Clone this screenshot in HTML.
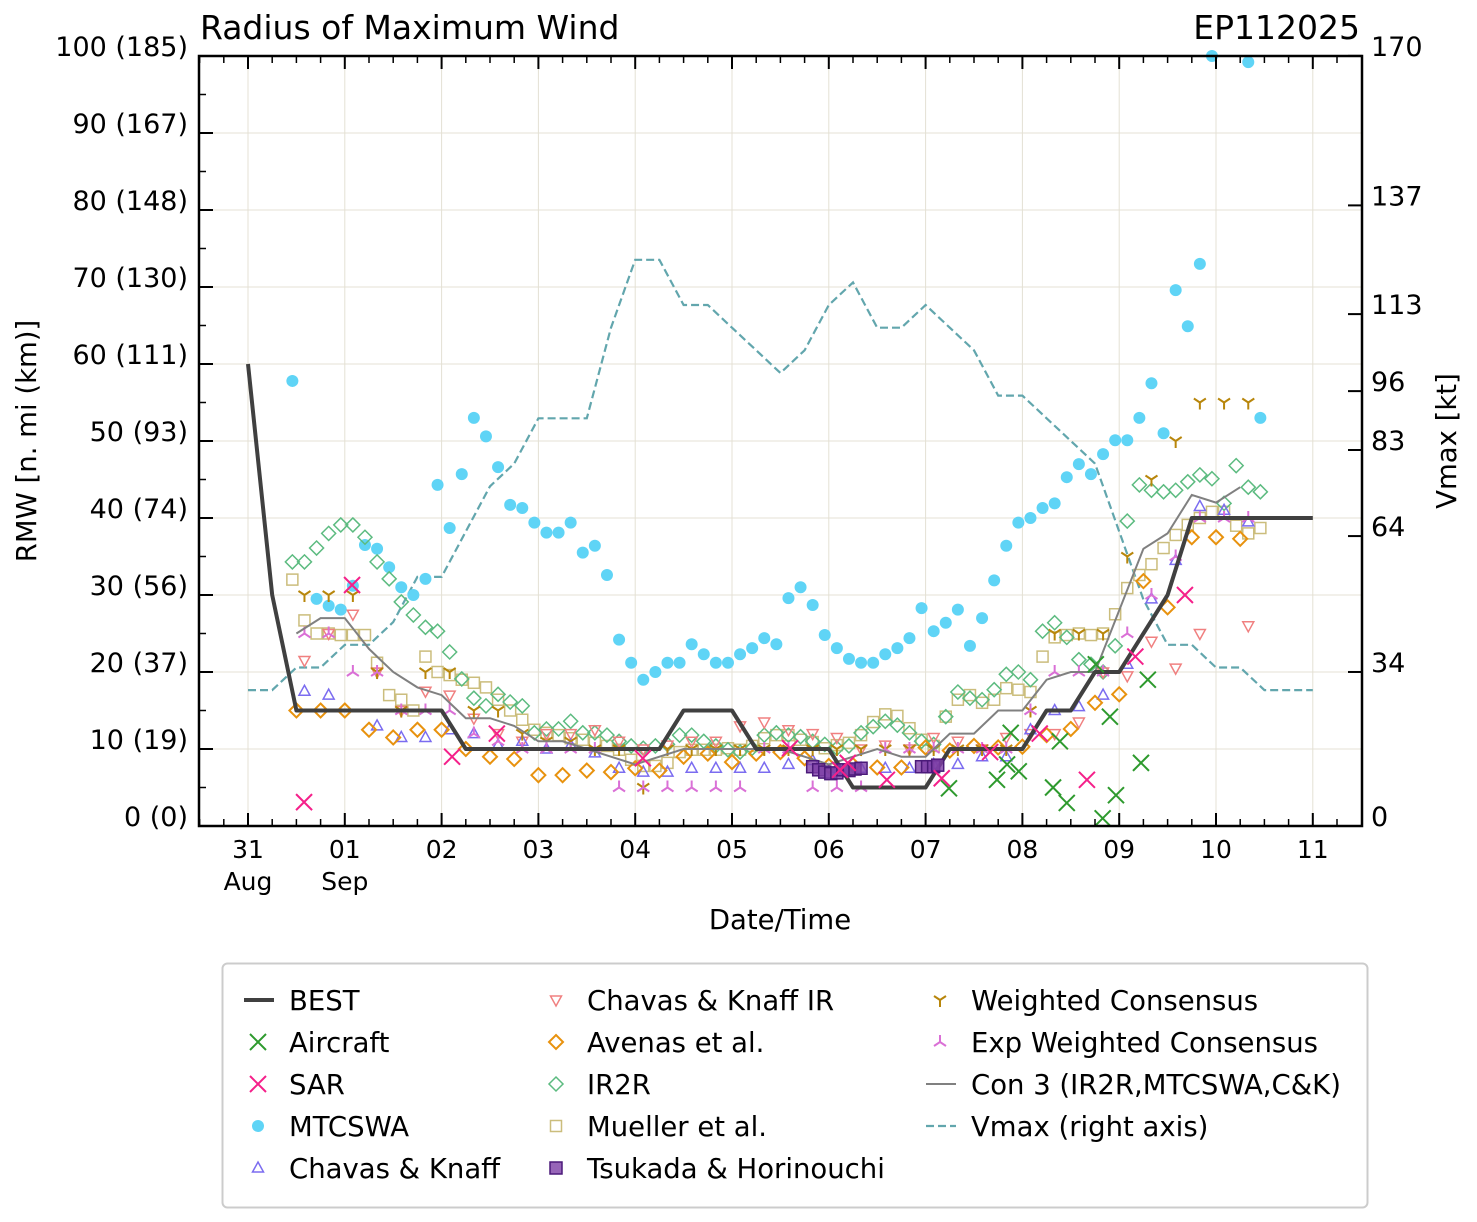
<!DOCTYPE html>
<html><head><meta charset="utf-8"><style>
html,body{margin:0;padding:0;background:#fff;}
svg{display:block;font-family:"DejaVu Sans","Liberation Sans",sans-serif;}
</style></head><body>
<svg id="chart" width="1477" height="1222" viewBox="0 0 1477 1222" xmlns="http://www.w3.org/2000/svg">
<rect x="0" y="0" width="1477" height="1222" fill="#fff"/>
<text x="200" y="39" font-size="33">Radius of Maximum Wind</text>
<text x="1360" y="39" font-size="33" text-anchor="end">EP112025</text>
<g id="grid"></g>
<g id="series"></g>
<g id="axes"></g>
<text transform="translate(36,441) rotate(-90)" font-size="27.5" text-anchor="middle">RMW [n. mi (km)]</text>
<text transform="translate(1456,441) rotate(-90)" font-size="27.5" text-anchor="middle">Vmax [kt]</text>
<text x="780" y="929" font-size="27.5" text-anchor="middle">Date/Time</text>
<g id="legend">
<rect x="222.5" y="963.5" width="1145" height="244" rx="5" fill="#fff" stroke="#ccc" stroke-width="2"/>
</g>
</svg>
<script>
// ---- data ----
const dayLabels = ["31","01","02","03","04","05","06","07","08","09","10","11"];
const monthLabels = ["Aug","Sep","","","","","","","","","",""];
const rmwTicks = [0,10,20,30,40,50,60,70,80,90,100];
const rmwTickLabels = ["0 (0)","10 (19)","20 (37)","30 (56)","40 (74)","50 (93)","60 (111)","70 (130)","80 (148)","90 (167)","100 (185)"];
const vmaxTicks = [0,34,64,83,96,113,137,170];

const bestTimes = [0,6,12,18,24,30,36,42,48,54,60,66,72,78,84,90,96,102,108,114,120,126,132,138,144,150,156,162,168,174,180,186,192,198,204,210,216,222,228,234,240,246,252,258,264];
const bestVals = [60,30,15,15,15,15,15,15,15,10,10,10,10,10,10,10,10,10,15,15,15,10,10,10,10,5,5,5,5,10,10,10,10,15,15,20,20,25,30,40,40,40,40,40,40];

const vmaxTimes = [0,6,12,18,24,30,36,42,48,54,60,66,72,78,84,90,96,102,108,114,120,126,132,138,144,150,156,162,168,174,180,186,192,198,204,210,216,222,228,234,240,246,252,258,264];
const vmaxVals = [30,30,35,35,40,40,45,55,55,65,75,80,90,90,90,110,125,125,115,115,110,105,100,105,115,120,110,110,115,110,105,95,95,90,85,80,65,50,40,40,35,35,30,30,30];

const con3Times = [12,18,24,30,36,42,48,54,60,66,72,78,84,90,96,102,108,114,120,126,132,138,144,150,156,162,168,174,180,186,192,198,204,210,216,222,228,234,240,246];
const con3Vals = [25,27,27,23,20,18,17,14,14,13,11,11,10,9,8,9,10,10,10,10,10,9,8,9,10,9,9,12,12,15,15,19,20,20,28,36,38,43,42,44];

const mtcStart = 11, mtcStep = 3;
const mtcVals = [57.8,null,29.5,28.6,28.1,31.2,36.5,36,33.6,31,30,32.1,44.3,38.7,45.7,53,50.6,46.6,41.7,41.3,39.4,38.1,38.1,39.4,35.5,36.4,32.6,24.2,21.2,19,20,21.2,21.2,23.6,22.3,21.2,21.2,22.3,23.1,24.4,23.6,29.6,31,28.7,24.8,23.1,21.7,21.2,21.2,22.3,23.1,24.4,28.3,25.3,26.4,28.1,23.4,27,31.9,36.4,39.4,40,41.3,41.9,45.3,47,45.7,48.3,50.1,50.1,53,57.5,51,69.6,64.9,73,100,null,null,99.2,53];

const ir2rStart = 11, ir2rStep = 3;
const ir2rVals = [34.3,34.3,36.1,38,39.1,39.1,37.5,34.3,32.1,29.1,27.4,25.8,25.3,22.6,19.1,16.6,15.6,17.1,16.1,15.6,12.1,12.6,12.6,13.6,12.1,12.1,11.8,11,10.4,10.1,10.4,10.6,11.8,11.8,11,10.4,9.9,9.6,10.1,11.8,12.1,11.8,11.6,11,10.6,10.1,10.4,12.1,12.9,13.6,13.1,12.1,11,10.6,14.2,17.4,16.6,16.4,17.7,19.7,20,19,25.3,26.4,24.5,21.6,21,20,23.4,39.6,44.3,43.6,43.4,43.6,44.7,45.6,45.1,41.9,46.8,44,43.4];

const muelStart = 11, muelStep = 3;
const muelVals = [32,26.7,25,25,24.8,24.8,24.8,21.2,17,16.4,15,22,20,19.6,19,18.6,18,16.4,15,13.8,12.5,12.1,11.8,11.4,11.2,10.8,10.4,9.9,8.6,7.8,7.8,8.2,9.6,9.9,9.9,9.9,10.1,9.9,10.4,11.4,11.8,11.8,11.2,10.9,10.1,10.5,10.8,11.8,13.5,14.5,14.3,12.7,11.2,10.4,14.2,16.4,17,16,16.4,17.9,17.7,17.4,22,24.5,24.8,25,24.8,25,27.5,30.9,32.6,34,36.1,37.8,39.1,40,40.8,40.8,39,38,38.7];

const aveStart = 12, aveStep = 6;
const aveVals = [15,15,15,12.5,11.5,12.5,12.5,10,9,8.7,6.6,6.6,7.2,7,7.5,7.2,9,9.4,8.3,9.4,9.6,8.8,7.8,7.9,7.6,7.6,10.2,9.8,10.4,10.2,10.3,11.8,12.6,16,17.1,31.8,28.4,37.5,37.5,37.3];

const ckirStart = 14, ckirStep = 6;
const ckirVals = [21.5,25,27.5,20,15,17.5,17,14,12,11,12,12,12.5,11,10,10.5,11,11,13,13.5,12.5,12,11.5,10,10.5,10,11.5,11,10,11.5,12,12,13.5,20,19.5,24,20.5,25,null,26];

const ckStart = 14, ckStep = 6;
const ckVals = [17.5,17,null,13,11.5,11.5,12.5,12,10.5,11,10,10.5,9.5,7.5,7,7,7.5,7.5,7.5,7.5,8,8.5,7.5,7.5,7.5,7.5,8,8,9,9,12.5,15,15.5,17,21,29.5,34.5,41.5,41,39.5];

const wcStart = 14, wcStep = 6;
const wcVals = [30,30,30,20,15,20,20,15,15,12,11,11,10,10,5,10,10,10,10,10,10,10,10,10,10,10,10,10,10,10,15,25,25,25,35,45,50,55,55,55];

const ewcStart = 14, ewcStep = 6;
const ewcVals = [25,25,20,20,15,15,15,12,11,10,10,10,10,5,5,5,5,5,5,10,10,5,5,5,10,10,10,10,10,10,15,20,20,20,25,30,35,40,40,40];

const airTimes = [173.8,185.7,188.2,191.1,189.1,199.6,201.3,203,210.2,211.9,213.7,215.2,221.4,223.1];
const airVals = [4.9,6,8,7.1,12.1,5,11,3,21,1,14.2,4,8.2,19];

const sarTimes = [13.9,25.8,50.6,61.7,97.9,134.4,146.8,148.7,158.4,172,184,196.3,208,220,232.3];
const sarVals = [3.1,31.3,9,12,8.8,10.1,7.3,8.2,6,6.2,9.6,12,6,22,30];

const tsuTimes = [140,141.5,143,144.5,146,147.5,149,150.5,152,167,168.5,170,171];
const tsuVals = [7.7,7.3,7,6.8,6.9,7.3,7.2,7.4,7.5,7.7,7.7,7.7,7.9];

// ---- axes ----
const X0=248, DAYPX=96.8, L=199, R=1362, T=56, B=826;
const X = h => X0 + h*DAYPX/24;
const Y = v => B - v*7.7;
const YV = k => B - k*4.53;
const NS="http://www.w3.org/2000/svg";
function mk(tag, attrs, parent){const e=document.createElementNS(NS,tag);for(const k in attrs)e.setAttribute(k,attrs[k]);parent.appendChild(e);return e;}
const grid=document.getElementById('grid'), axes=document.getElementById('axes'), ser=document.getElementById('series');

dayLabels.forEach((d,i)=>{
  const x=X(i*24);
  const g=mk('line',{x1:x,x2:x,y1:T,y2:B,stroke:'#e4e0d4','stroke-width':1},grid);
  
  
  const t=mk('text',{x:x,y:858,'font-size':25,'text-anchor':'middle'},axes);t.textContent=d;
  
  
  if(monthLabels[i]){const m=mk('text',{x:x,y:890,'font-size':25,'text-anchor':'middle'},axes);m.textContent=monthLabels[i];
    
    }
  mk('line',{x1:x,x2:x,y1:B,y2:B-13,stroke:'#000','stroke-width':2},axes);
  mk('line',{x1:x,x2:x,y1:T,y2:T+13,stroke:'#000','stroke-width':2},axes);
});
for(let h=-48;h<=270;h+=6){ if(h%24===0)continue; const x=X(h); if(x<L||x>R)continue;
  mk('line',{x1:x,x2:x,y1:B,y2:B-7,stroke:'#000','stroke-width':1.5},axes);
  mk('line',{x1:x,x2:x,y1:T,y2:T+7,stroke:'#000','stroke-width':1.5},axes);}
rmwTicks.forEach((v,i)=>{
  const y=Y(v);
  const g=mk('line',{x1:L,x2:R,y1:y,y2:y,stroke:'#e4e0d4','stroke-width':1},grid);
  
  
  mk('line',{x1:L,x2:L+14,y1:y,y2:y,stroke:'#000','stroke-width':2},axes);
  const t=mk('text',{x:188,y:y,'font-size':27,'text-anchor':'end'},axes);t.textContent=rmwTickLabels[i];
  
  
  if(v<100) mk('line',{x1:L,x2:L+7,y1:Y(v+5),y2:Y(v+5),stroke:'#000','stroke-width':1.5},axes);
});
vmaxTicks.forEach(k=>{
  const y=YV(k);
  mk('line',{x1:R-14,x2:R,y1:y,y2:y,stroke:'#000','stroke-width':2},axes);
  const t=mk('text',{x:1371,y:y,'font-size':27},axes);t.textContent=k;
  
  
});
mk('rect',{x:L,y:T,width:R-L,height:B-T,fill:'none',stroke:'#000','stroke-width':2.5},axes);

// ---- markers ----
function marker(type,x,y,parent){
  const s=7;
  switch(type){
    case 'circle': return mk('circle',{cx:x,cy:y,r:6,fill:'#5fd4f6'},parent);
    case 'xg': return mk('path',{d:`M${x-8} ${y-8}L${x+8} ${y+8}M${x-8} ${y+8}L${x+8} ${y-8}`,stroke:'#2e9a2e','stroke-width':2,fill:'none'},parent);
    case 'xm': return mk('path',{d:`M${x-8} ${y-8}L${x+8} ${y+8}M${x-8} ${y+8}L${x+8} ${y-8}`,stroke:'#f5208a','stroke-width':2,fill:'none'},parent);
    case 'tup': return mk('path',{d:`M${x} ${y-6}L${x+5.5} ${y+4}L${x-5.5} ${y+4}Z`,stroke:'#7b6cf0','stroke-width':1.5,fill:'none'},parent);
    case 'tdn': return mk('path',{d:`M${x} ${y+6}L${x+5.5} ${y-4}L${x-5.5} ${y-4}Z`,stroke:'#f08080','stroke-width':1.5,fill:'none'},parent);
    case 'dia': return mk('path',{d:`M${x} ${y-s}L${x+s} ${y}L${x} ${y+s}L${x-s} ${y}Z`,stroke:'#e8920e','stroke-width':2,fill:'none'},parent);
    case 'diag': return mk('path',{d:`M${x} ${y-s}L${x+s} ${y}L${x} ${y+s}L${x-s} ${y}Z`,stroke:'#5cbb80','stroke-width':1.5,fill:'none'},parent);
    case 'sq': return mk('rect',{x:x-5.5,y:y-5.5,width:11,height:11,stroke:'#cbbd7c','stroke-width':1.5,fill:'none'},parent);
    case 'sqp': return mk('rect',{x:x-6,y:y-6,width:12,height:12,stroke:'#4b1a7a','stroke-width':1.5,fill:'#7d3fa6','fill-opacity':0.8},parent);
    case 'ydn': return mk('path',{d:`M${x} ${y}L${x} ${y+7}M${x} ${y}L${x-6} ${y-4}M${x} ${y}L${x+6} ${y-4}`,stroke:'#b8860b','stroke-width':2,fill:'none'},parent);
    case 'yup': return mk('path',{d:`M${x} ${y}L${x} ${y-7}M${x} ${y}L${x-6} ${y+4}M${x} ${y}L${x+6} ${y+4}`,stroke:'#da70d6','stroke-width':2,fill:'none'},parent);
  }
}
function drawPts(times,vals,type,name){
  const g=mk('g',{},ser);
  
  
  vals.forEach((v,i)=>{ if(v===null||v===undefined)return; const y=Y(v); if(y<T-2)return;
    const m=marker(type,X(times[i]),y,g);
    
    
  });
}
const gridTimes=(start,step,n)=>Array.from({length:n},(_,i)=>start+i*step);
function drawLine(times,vals,yfn,attrs,name){
  const d=vals.map((v,i)=>(i?'L':'M')+X(times[i]).toFixed(1)+' '+yfn(v).toFixed(1)).join('');
  const p=mk('path',Object.assign({d:d,fill:'none'},attrs),ser);
  
  
}
drawLine(vmaxTimes,vmaxVals,YV,{stroke:'#62a6ad','stroke-width':2.2,'stroke-dasharray':'8,4'},'vmax-line');
drawPts(gridTimes(mtcStart,mtcStep,mtcVals.length),mtcVals,'circle','mtcswa');
drawPts(gridTimes(muelStart,muelStep,muelVals.length),muelVals,'sq','mueller');
drawPts(gridTimes(ir2rStart,ir2rStep,ir2rVals.length),ir2rVals,'diag','ir2r');
drawPts(gridTimes(ckirStart,ckirStep,ckirVals.length),ckirVals,'tdn','chavas-knaff-ir');
drawPts(gridTimes(ckStart,ckStep,ckVals.length),ckVals,'tup','chavas-knaff');
drawPts(gridTimes(aveStart,aveStep,aveVals.length),aveVals,'dia','avenas');
drawPts(gridTimes(wcStart,wcStep,wcVals.length),wcVals,'ydn','weighted-consensus');
drawPts(gridTimes(ewcStart,ewcStep,ewcVals.length),ewcVals,'yup','exp-weighted-consensus');
drawLine(con3Times,con3Vals,Y,{stroke:'#808080','stroke-width':2},'con3-line');
drawLine(bestTimes,bestVals,Y,{stroke:'#404040','stroke-width':4,'stroke-linejoin':'round'},'best-track-line');
drawPts(tsuTimes,tsuVals,'sqp','tsukada-horinouchi');
drawPts(airTimes,airVals,'xg','aircraft');
drawPts(sarTimes,sarVals,'xm','sar');

// ---- legend ----
const legend=document.getElementById('legend');
const legendItems=[
 ['BEST','line-best',258,1000],['Aircraft','xg',258,1042],['SAR','xm',258,1084],['MTCSWA','circle',258,1126],['Chavas & Knaff','tup',258,1168],
 ['Chavas & Knaff IR','tdn',556,1000],['Avenas et al.','dia',556,1042],['IR2R','diag',556,1084],['Mueller et al.','sq',556,1126],['Tsukada & Horinouchi','sqp',556,1168],
 ['Weighted Consensus','ydn',940,1000],['Exp Weighted Consensus','yup',940,1042],['Con 3 (IR2R,MTCSWA,C&K)','line-con',940,1084],['Vmax (right axis)','line-vmax',940,1126]
];
legendItems.forEach(([label,type,x,y])=>{
  const g=mk('g',{},legend);
  
  
  if(type==='line-best') mk('line',{x1:x-14,x2:x+16,y1:y,y2:y,stroke:'#404040','stroke-width':4},g);
  else if(type==='line-con') mk('line',{x1:x-14,x2:x+16,y1:y,y2:y,stroke:'#808080','stroke-width':2},g);
  else if(type==='line-vmax') mk('line',{x1:x-14,x2:x+16,y1:y,y2:y,stroke:'#62a6ad','stroke-width':2.2,'stroke-dasharray':'8,4'},g);
  else marker(type,x,y,g);
  const t=mk('text',{x:x+31,y:y+10,'font-size':27.5},g);t.textContent=label;
});
</script>
</body></html>
